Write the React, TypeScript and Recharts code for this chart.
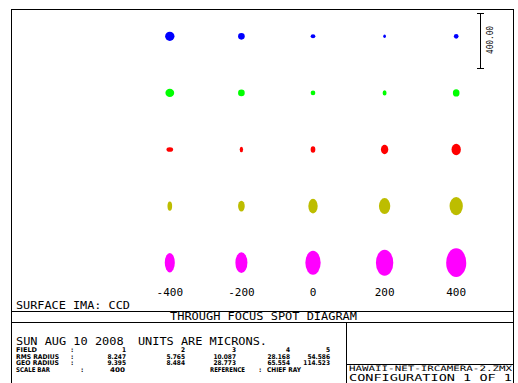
import { Scatter, ScatterChart, XAxis, YAxis } from "recharts";

// focus shift of each column (microns) and field heights of each row
const focusOffsets = [-400, -200, 0, 200, 400];
const fieldLabels = ["0.0000 MM", "2.0000 MM", "4.0000 MM", "6.0000 MM", "8.0000 MM"];
const fieldColors = ["#0000ff", "#00ff00", "#ff0000", "#bdbd00", "#ff00ff"];

// spot extent (microns), one value per focus column
const field1Width = [66, 47, 33, 19, 33];
const field1Height = [66, 47, 28, 24, 33];
const field2Width = [62, 47, 33, 28, 47];
const field2Height = [57, 47, 33, 38, 52];
const field3Width = [47, 24, 33, 52, 66];
const field3Height = [33, 38, 47, 66, 80];
const field4Width = [33, 47, 66, 80, 94];
const field4Height = [66, 76, 104, 113, 128];
const field5Width = [71, 85, 108, 123, 142];
const field5Height = [137, 147, 170, 184, 203];

// summary table
const fieldNumbers = ["1", "2", "3", "4", "5"];
const rmsRadius = ["8.247", "5.765", "10.087", "28.168", "54.586"];
const geoRadius = ["9.395", "8.484", "28.773", "65.554", "114.523"];
const scaleBar = 400;

const W = 518;
const H = 383;
const margin = { top: 8, right: 26, bottom: 72, left: 134 };
const plotH = H - margin.top - margin.bottom - 20;
const pxPerMicron = plotH / fieldLabels.length / scaleBar;

const widths = [field1Width, field2Width, field3Width, field4Width, field5Width];
const heights = [field1Height, field2Height, field3Height, field4Height, field5Height];

const seriesData = fieldLabels.map((_, k) =>
  focusOffsets.map((focus, i) => ({ focus, field: k + 1, w: widths[k][i], h: heights[k][i] }))
);

const mono = "'DejaVu Sans Mono', monospace";
const small = "'DejaVu Sans Condensed', 'DejaVu Sans', sans-serif";
const tableCols = [126, 185, 236, 290, 330];

const Txt = ({ x, y, len, size, children, font = mono, weight = "normal", anchor = "start" }: any) => (
  <text
    x={x}
    y={y}
    fontSize={size}
    fontFamily={font}
    fontWeight={weight}
    textAnchor={anchor}
    dominantBaseline="central"
    textLength={len}
    lengthAdjust="spacingAndGlyphs"
    style={{ whiteSpace: "pre" }}
    fill="#000"
  >
    {children}
  </text>
);

const FieldTick = ({ y, payload }: any) => (
  <text x={14} y={y} fontSize={7.5} fontFamily={mono} fontWeight="bold" dominantBaseline="central" fill="#000">
    {fieldLabels[payload.value - 1]}
  </text>
);

const FocusTick = ({ x, y, payload }: any) => (
  <text x={x} y={y + 1} fontSize={11} fontFamily={mono} textAnchor="middle" dominantBaseline="central" fill="#000">
    {payload.value}
  </text>
);

const spotShape = (color: string) => (p: any) => (
  <ellipse
    cx={p.cx}
    cy={p.cy}
    rx={(p.payload.w * pxPerMicron) / 2}
    ry={(p.payload.h * pxPerMicron) / 2}
    fill={color}
  />
);

const tableRows = [
  { label: "FIELD", len: 21, y: 350, values: fieldNumbers },
  { label: "RMS RADIUS", len: 43, y: 356.8, values: rmsRadius },
  { label: "GEO RADIUS", len: 43, y: 363.4, values: geoRadius },
];

export default function App() {
  return (
    <div style={{ position: "absolute", left: 0, top: 0, width: W, height: H, background: "#fff", overflow: "hidden" }}>
      <ScatterChart width={W} height={H} margin={margin}>
        <XAxis
          type="number"
          dataKey="focus"
          domain={[-500, 500]}
          ticks={focusOffsets}
          axisLine={false}
          tickLine={false}
          tickSize={0}
          tickMargin={0}
          height={20}
          tick={<FocusTick />}
        />
        <YAxis
          type="number"
          dataKey="field"
          domain={[0.5, 5.5]}
          ticks={[1, 2, 3, 4, 5]}
          reversed
          width={0}
          axisLine={false}
          tickLine={false}
          tick={<FieldTick />}
        />
        {seriesData.map((d, k) => (
          <Scatter key={k} data={d} shape={spotShape(fieldColors[k])} isAnimationActive={false} />
        ))}
      </ScatterChart>
      <svg width={W} height={H} style={{ position: "absolute", left: 0, top: 0, pointerEvents: "none" }} shapeRendering="crispEdges">
        <rect x={11.5} y={9.5} width={502} height={400} fill="none" stroke="#000" />
        <line x1={11} x2={513} y1={311.5} y2={311.5} stroke="#000" />
        <line x1={11} x2={513} y1={322.5} y2={322.5} stroke="#000" />
        <line x1={346.5} x2={346.5} y1={322} y2={400} stroke="#000" />
        <line x1={346} x2={513} y1={364.5} y2={364.5} stroke="#000" />
        {/* scale bar */}
        <line x1={480.5} x2={480.5} y1={13} y2={69} stroke="#000" />
        <line x1={477} x2={484} y1={13.5} y2={13.5} stroke="#000" />
        <line x1={477} x2={484} y1={68.5} y2={68.5} stroke="#000" />
        <g shapeRendering="auto">
          <text
            x={0}
            y={0}
            transform="translate(490,40) rotate(-90)"
            fontSize={8}
            fontFamily={mono}
            textAnchor="middle"
            dominantBaseline="central"
            textLength={28}
            lengthAdjust="spacingAndGlyphs"
          >
            {scaleBar.toFixed(2)}
          </text>
          <Txt x={16} y={305.7} len={114} size={11}>SURFACE IMA: CCD</Txt>
          <Txt x={170} y={316.7} len={187} size={11}>THROUGH FOCUS SPOT DIAGRAM</Txt>
          <Txt x={16} y={340.8} len={251} size={10.5}>SUN AUG 10 2008  UNITS ARE MICRONS.</Txt>
          {tableRows.map((r) => (
            <g key={r.label}>
              <Txt x={16} y={r.y} len={r.len} size={6.5} font={small} weight="bold">{r.label}</Txt>
              <Txt x={71} y={r.y} size={6.5} font={small} weight="bold">:</Txt>
              {r.values.map((v, i) => (
                <Txt key={i} x={tableCols[i]} y={r.y} size={6.5} font={small} weight="bold" anchor="end">{v}</Txt>
              ))}
            </g>
          ))}
          <Txt x={16} y={370} len={34} size={6.5} font={small} weight="bold">SCALE BAR</Txt>
          <Txt x={81} y={370} size={6.5} font={small} weight="bold">:</Txt>
          <Txt x={110} y={370} len={15} size={6.5} font={small} weight="bold">{String(scaleBar)}</Txt>
          <Txt x={210} y={370} len={35} size={6.5} font={small} weight="bold">REFERENCE</Txt>
          <Txt x={259} y={370} size={6.5} font={small} weight="bold">:</Txt>
          <Txt x={267} y={370} len={34} size={6.5} font={small} weight="bold">CHIEF RAY</Txt>
          <Txt x={349} y={368.6} len={163} size={7.5}>HAWAII-NET-IRCAMERA-2.ZMX</Txt>
          <Txt x={349} y={378.3} len={163} size={9}>CONFIGURATION 1 OF 1</Txt>
        </g>
      </svg>
    </div>
  );
}
